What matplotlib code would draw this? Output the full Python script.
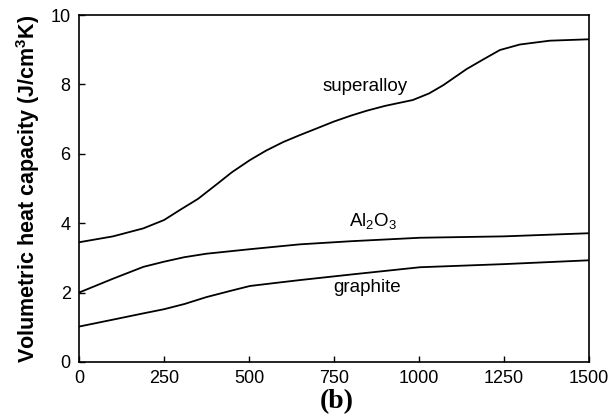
import matplotlib
matplotlib.use('Agg')
import matplotlib.pyplot as plt

plt.rcParams['font.family'] = ['Liberation Sans', 'DejaVu Sans']
plt.rcParams['mathtext.fontset'] = 'custom'
plt.rcParams['mathtext.rm'] = 'Liberation Sans'
plt.rcParams['mathtext.bf'] = 'Liberation Sans:bold'

# temperature (C) vs volumetric heat capacity (J/cm^3K)
t_super = [0, 100, 189, 250, 300, 350, 405, 450, 503, 550, 601, 650, 699, 750,
           800, 846, 900, 982, 1030, 1072, 1140, 1184, 1238, 1297, 1385, 1500]
c_super = [3.45, 3.62, 3.85, 4.09, 4.40, 4.70, 5.12, 5.47, 5.82, 6.09, 6.34, 6.54,
           6.73, 6.93, 7.10, 7.24, 7.38, 7.55, 7.74, 7.98, 8.44, 8.69, 8.99, 9.15,
           9.26, 9.30]

t_al2o3 = [0, 100, 189, 250, 310, 375, 503, 650, 800, 1003, 1250, 1500]
c_al2o3 = [2.00, 2.40, 2.74, 2.89, 3.02, 3.12, 3.25, 3.39, 3.48, 3.58, 3.62, 3.71]

t_graph = [0, 100, 189, 250, 310, 375, 450, 503, 580, 650, 800, 1003, 1250, 1500]
c_graph = [1.02, 1.22, 1.40, 1.52, 1.67, 1.87, 2.06, 2.19, 2.28, 2.36, 2.52, 2.73,
           2.82, 2.93]

fig = plt.figure(figsize=(6.15, 4.17), dpi=100)
ax = fig.add_axes([0.1285, 0.132, 0.829, 0.832])

for t, c in [(t_super, c_super), (t_al2o3, c_al2o3), (t_graph, c_graph)]:
    ax.plot(t, c, color='black', lw=1.3)

ax.text(843, 7.95, 'superalloy', ha='center', va='center', fontsize=13.5)
ax.text(865, 4.04, 'Al$_2$O$_3$', ha='center', va='center', fontsize=13.5)
ax.text(846, 2.15, 'graphite', ha='center', va='center', fontsize=13.5)

ax.set_xlim(0, 1500)
ax.set_ylim(0, 10)
ax.set_xticks([0, 250, 500, 750, 1000, 1250, 1500])
ax.set_yticks([0, 2, 4, 6, 8, 10])
ax.tick_params(direction='in', length=4, width=1, labelsize=13, pad=6,
               top=False, right=False)
for s in ax.spines.values():
    s.set_linewidth(1.2)

ax.set_ylabel('Volumetric heat capacity (J/cm$^\\mathbf{3}$K)', fontsize=15.5,
              fontweight='bold', labelpad=6)
fig.text(0.548, 0.037, '(b)', ha='center', va='center', fontsize=20,
         fontweight='bold', family='Liberation Serif')

fig.savefig('out.png', dpi=100)
